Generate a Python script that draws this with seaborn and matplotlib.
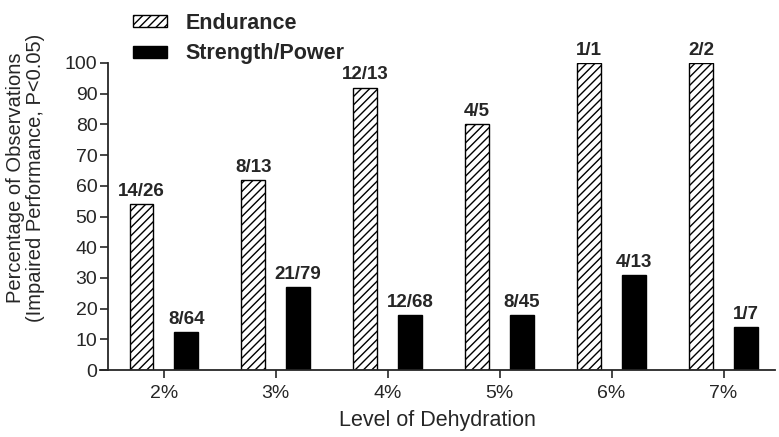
import pandas as pd
import matplotlib.pyplot as plt
import seaborn as sns
from matplotlib.patches import Patch

levels = ['2%', '3%', '4%', '5%', '6%', '7%']
endurance = [54, 62, 92, 80, 100, 100]
strength = [12.5, 27, 18, 18, 31, 14]
endurance_labels = ['14/26', '8/13', '12/13', '4/5', '1/1', '2/2']
strength_labels = ['8/64', '21/79', '12/68', '8/45', '4/13', '1/7']

df = pd.DataFrame({
    'level': levels * 2,
    'pct': endurance + strength,
    'group': ['Endurance'] * len(levels) + ['Strength/Power'] * len(levels),
})

sns.set_style('ticks')
plt.rcParams['font.family'] = ['Liberation Sans', 'DejaVu Sans']
plt.rcParams['hatch.linewidth'] = 1.0

fig = plt.figure(figsize=(7.79, 4.37), dpi=100)
ax = fig.add_axes([100 / 779, 0.153, 675 / 779, 0.703])

sns.barplot(data=df, x='level', y='pct', hue='group', ax=ax,
            palette=['white', 'black'], edgecolor='black', linewidth=1,
            gap=0.47, width=0.8, legend=False)

# hatch the endurance bars
for bar in ax.containers[0]:
    bar.set_hatch('////')

ax.bar_label(ax.containers[0], labels=endurance_labels, padding=3,
             fontsize=13.5, fontweight='bold')
ax.bar_label(ax.containers[1], labels=strength_labels, padding=3,
             fontsize=13.5, fontweight='bold')

ax.set_ylim(0, 100)
ax.set_yticks(range(0, 101, 10))
ax.set_xlim(-0.57, 5.46)
ax.set_xlabel('Level of Dehydration', fontsize=15.5, labelpad=6)
ax.set_ylabel('Percentage of Observations\n(Impaired Performance, P<0.05)',
              fontsize=14.5, linespacing=1.05)
ax.yaxis.set_label_coords(-0.082, 0.625)
ax.tick_params(labelsize=14, length=5.5, width=1.2)
ax.tick_params(axis='x', pad=5)
ax.tick_params(axis='y', pad=2)
sns.despine(ax=ax)
ax.spines['left'].set_position(('data', -0.5))
for s in ['left', 'bottom']:
    ax.spines[s].set_linewidth(1.3)

handles = [Patch(facecolor='white', edgecolor='black', hatch='////'),
           Patch(facecolor='black', edgecolor='black')]
fig.legend(handles, ['Endurance', 'Strength/Power'], loc='upper left',
           bbox_to_anchor=(122 / 779, 1 - 2 / 437), frameon=False,
           borderpad=0, handlelength=1.6, handleheight=0.5, handletextpad=0.85,
           labelspacing=0.45, prop={'weight': 'bold', 'size': 15.5})

fig.savefig('out.png', dpi=100)
